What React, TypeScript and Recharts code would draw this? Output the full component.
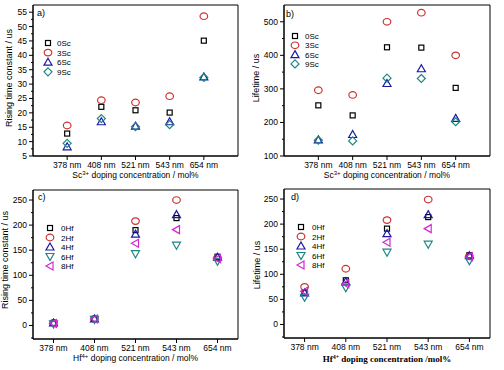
import React from 'react';
import { ScatterChart, Scatter, XAxis, YAxis, ReferenceArea } from 'recharts';

const wavelengths = ['378 nm', '408 nm', '521 nm', '543 nm', '654 nm'];
const scNames = ['0Sc', '3Sc', '6Sc', '9Sc'];
const hfNames = ['0Hf', '2Hf', '4Hf', '6Hf', '8Hf'];

// a) rising time constant, Sc series
const riseSc0 = [12.8, 22.1, 20.9, 20.1, 45.1];
const riseSc3 = [15.6, 24.4, 23.6, 25.8, 53.6];
const riseSc6 = [8.2, 16.9, 15.4, 16.9, 32.5];
const riseSc9 = [9.4, 18.0, 15.2, 15.9, 32.3];

// b) lifetime, Sc series
const lifeSc0 = [251, 221, 424, 423, 303];
const lifeSc3 = [296, 282, 500, 527, 400];
const lifeSc6 = [148, 164, 316, 360, 212];
const lifeSc9 = [147, 145, 332, 331, 202];

// c) rising time constant, Hf series
const riseHf0 = [5, 13, 190, 214, 137];
const riseHf2 = [5, 13, 208, 250, 135];
const riseHf4 = [5, 13, 182, 221, 136];
const riseHf6 = [3, 12, 143, 160, 128];
const riseHf8 = [4, 13, 164, 191, 133];

// d) lifetime, Hf series
const lifeHf0 = [64, 88, 191, 214, 138];
const lifeHf2 = [75, 111, 208, 249, 136];
const lifeHf4 = [63, 85, 181, 219, 137];
const lifeHf6 = [54, 73, 144, 160, 127];
const lifeHf8 = [66, 81, 164, 191, 135];

const ticksRiseSc = [5, 7.5, 10, 12.5, 15, 17.5, 20, 22.5, 25, 27.5, 30, 32.5, 35, 37.5, 40, 42.5, 45, 47.5, 50, 52.5, 55];
const majorRiseSc = [5, 10, 15, 20, 25, 30, 35, 40, 45, 50, 55];
const ticksLifeSc = [100, 150, 200, 250, 300, 350, 400, 450, 500];
const majorLifeSc = [100, 200, 300, 400, 500];
const ticksHf = [-25, 0, 25, 50, 75, 100, 125, 150, 175, 200, 225, 250];
const majorHf = [0, 50, 100, 150, 200, 250];

const SC_KINDS = ['square', 'circle', 'up', 'diamond'];
const SC_COLORS = ['#000000', '#cc3333', '#1a1aa6', '#1f8585'];
const HF_KINDS = ['square', 'circle', 'up', 'down', 'left'];
const HF_COLORS = ['#000000', '#cc3333', '#1a1aa6', '#1f8585', '#d22ad2'];

const FONT = '"Liberation Sans", Arial, sans-serif';

function Marker({ cx, cy, kind, color }: any) {
  const p = { fill: 'none', stroke: color, strokeWidth: 1.2 };
  if (kind === 'square') return <rect x={cx - 2.5} y={cy - 2.5} width={5} height={5} {...p} />;
  if (kind === 'circle') return <ellipse cx={cx} cy={cy} rx={3.8} ry={3.3} {...p} />;
  if (kind === 'up') return <polygon points={`${cx},${cy - 4} ${cx + 4},${cy + 3} ${cx - 4},${cy + 3}`} {...p} />;
  if (kind === 'down') return <polygon points={`${cx - 4},${cy - 3} ${cx + 4},${cy - 3} ${cx},${cy + 4}`} {...p} />;
  if (kind === 'left') return <polygon points={`${cx - 4},${cy} ${cx + 3},${cy - 4} ${cx + 3},${cy + 4}`} {...p} />;
  return <polygon points={`${cx},${cy - 4} ${cx + 4},${cy} ${cx},${cy + 4} ${cx - 4},${cy}`} {...p} />;
}

function Panel(props: any) {
  const { left, top, yw, mt, xh, series, names, kinds, colors, yDomain, yTicks, yMajor, xDomain,
    yLabel, yLabelX, yLabelY, xLabelPre, xLabelSup, xLabelPost, serifTitle, letter, letterX, letterY, leg } = props;
  const data = series.map((vals: number[]) => vals.map((v, i) => ({ x: i + 1, y: v })));

  const xTick = (p: any) => (
    <g>
      <line x1={p.x} y1={p.y} x2={p.x} y2={p.y + 4} stroke="#000" />
      <text x={p.x} y={p.y + 12} textAnchor="middle" fontSize={8.5} fontFamily={FONT} fill="#000">
        {wavelengths[p.payload.value - 1]}
      </text>
    </g>
  );
  const yTick = (p: any) => {
    const major = yMajor.includes(p.payload.value);
    return (
      <g>
        <line x1={p.x} y1={p.y} x2={p.x - (major ? 4 : 2)} y2={p.y} stroke="#000" />
        {major && (
          <text x={p.x - 6} y={p.y + 3} textAnchor="end" fontSize={8.5} fontFamily={FONT} fill="#000">
            {p.payload.value}
          </text>
        )}
      </g>
    );
  };
  const xTitle = (p: any) => {
    const vb = p.viewBox;
    return (
      <text x={vb.x + vb.width / 2} y={vb.y + (serifTitle ? 24 : 22)} textAnchor="middle"
        fontSize={serifTitle ? 9 : 8.5} fontWeight={serifTitle ? 'bold' : 'normal'}
        fontFamily={serifTitle ? '"Liberation Serif", serif' : FONT} fill="#000">
        {xLabelPre}
        <tspan fontSize={6} dy={-3}>{xLabelSup}</tspan>
        <tspan dy={3}>{xLabelPost}</tspan>
      </text>
    );
  };
  const yTitle = () => (
    <text x={yLabelX} y={yLabelY} transform={`rotate(-90 ${yLabelX} ${yLabelY})`} textAnchor="middle"
      fontSize={9} fontFamily={FONT} fill="#000">
      {yLabel}
    </text>
  );

  return (
    <div style={{ position: 'absolute', left, top, width: 252, height: 185 }}>
      <ScatterChart width={252} height={185} margin={{ top: mt, right: 14, bottom: 0, left: 0 }}>
        <XAxis type="number" dataKey="x" domain={xDomain} ticks={[1, 2, 3, 4, 5]} interval={0}
          allowDataOverflow tickSize={0} tickMargin={0} tickLine={false} tick={xTick} height={xh}
          axisLine={{ stroke: '#000' }} label={xTitle} />
        <YAxis type="number" dataKey="y" domain={yDomain} ticks={yTicks} interval={0} allowDataOverflow
          tickSize={0} tickMargin={0} tickLine={false} tick={yTick} width={yw}
          axisLine={{ stroke: '#000' }} label={yTitle} />
        <ReferenceArea x1={xDomain[0]} x2={xDomain[1]} y1={yDomain[0]} y2={yDomain[1]}
          fill="none" stroke="#000" strokeWidth={1} fillOpacity={0} />
        {data.map((d: any, i: number) => (
          <Scatter key={names[i]} name={names[i]} data={d} isAnimationActive={false}
            shape={(sp: any) => <Marker cx={sp.cx} cy={sp.cy} kind={kinds[i]} color={colors[i]} />} />
        ))}
      </ScatterChart>
      <div style={{ position: 'absolute', left: 0, top: 0, fontFamily: FONT, fontSize: 9 }}>
        <div style={{ position: 'absolute', left: letterX, top: letterY, whiteSpace: 'nowrap' }}>{letter}</div>
      </div>
      <svg style={{ position: 'absolute', left: 0, top: 0 }} width={252} height={185} pointerEvents="none">
        {names.map((n: string, i: number) => (
          <g key={n}>
            <Marker cx={leg.x} cy={leg.y + i * leg.dy} kind={kinds[i]} color={colors[i]} />
            <text x={leg.tx} y={leg.y + i * leg.dy + 3} fontSize={8} fontFamily={FONT} fill="#000">{n}</text>
          </g>
        ))}
      </svg>
    </div>
  );
}

export default function App() {
  return (
    <div style={{ position: 'absolute', left: 0, top: 0, width: 504, height: 370, background: '#fff' }}>
      <Panel left={0} top={0} yw={33} mt={5} xh={29} series={[riseSc0, riseSc3, riseSc6, riseSc9]}
        names={scNames} kinds={SC_KINDS} colors={SC_COLORS} yDomain={[5, 57.5]} yTicks={ticksRiseSc}
        yMajor={majorRiseSc} xDomain={[0, 6]} yLabel="Rising time constant / us" yLabelX={12} yLabelY={78}
        xLabelPre="Sc" xLabelSup="3+" xLabelPost=" doping concentration / mol%"
        letter="a)" letterX={37} letterY={8} leg={{ x: 48, tx: 57, y: 43, dy: 9.6 }} />
      <Panel left={252} top={0} yw={32} mt={5} xh={29} series={[lifeSc0, lifeSc3, lifeSc6, lifeSc9]}
        names={scNames} kinds={SC_KINDS} colors={SC_COLORS} yDomain={[100, 550]} yTicks={ticksLifeSc}
        yMajor={majorLifeSc} xDomain={[0, 6]} yLabel="Lifetime / us" yLabelX={7} yLabelY={78}
        xLabelPre="Sc" xLabelSup="3+" xLabelPost=" doping concentration / mol%"
        letter="b)" letterX={34} letterY={9} leg={{ x: 43, tx: 53, y: 36, dy: 9.3 }} />
      <Panel left={0} top={185} yw={33} mt={5} xh={31} series={[riseHf0, riseHf2, riseHf4, riseHf6, riseHf8]}
        names={hfNames} kinds={HF_KINDS} colors={HF_COLORS} yDomain={[-27, 270]} yTicks={ticksHf}
        yMajor={majorHf} xDomain={[0.5, 5.5]} yLabel="Rising time constant / us" yLabelX={8} yLabelY={75}
        xLabelPre="Hf" xLabelSup="4+" xLabelPost=" doping concentration / mol%"
        letter="c)" letterX={38} letterY={7} leg={{ x: 50, tx: 61, y: 43, dy: 9.5 }} />
      <Panel left={252} top={185} yw={32} mt={4} xh={32} series={[lifeHf0, lifeHf2, lifeHf4, lifeHf6, lifeHf8]}
        names={hfNames} kinds={HF_KINDS} colors={HF_COLORS} yDomain={[-27, 270]} yTicks={ticksHf}
        yMajor={majorHf} xDomain={[0.5, 5.5]} yLabel="Lifetime / us" yLabelX={8} yLabelY={80}
        xLabelPre="Hf" xLabelSup="4+" xLabelPost=" doping concentration /mol%" serifTitle
        letter="d)" letterX={39} letterY={7} leg={{ x: 49, tx: 60, y: 42, dy: 9.5 }} />
    </div>
  );
}
